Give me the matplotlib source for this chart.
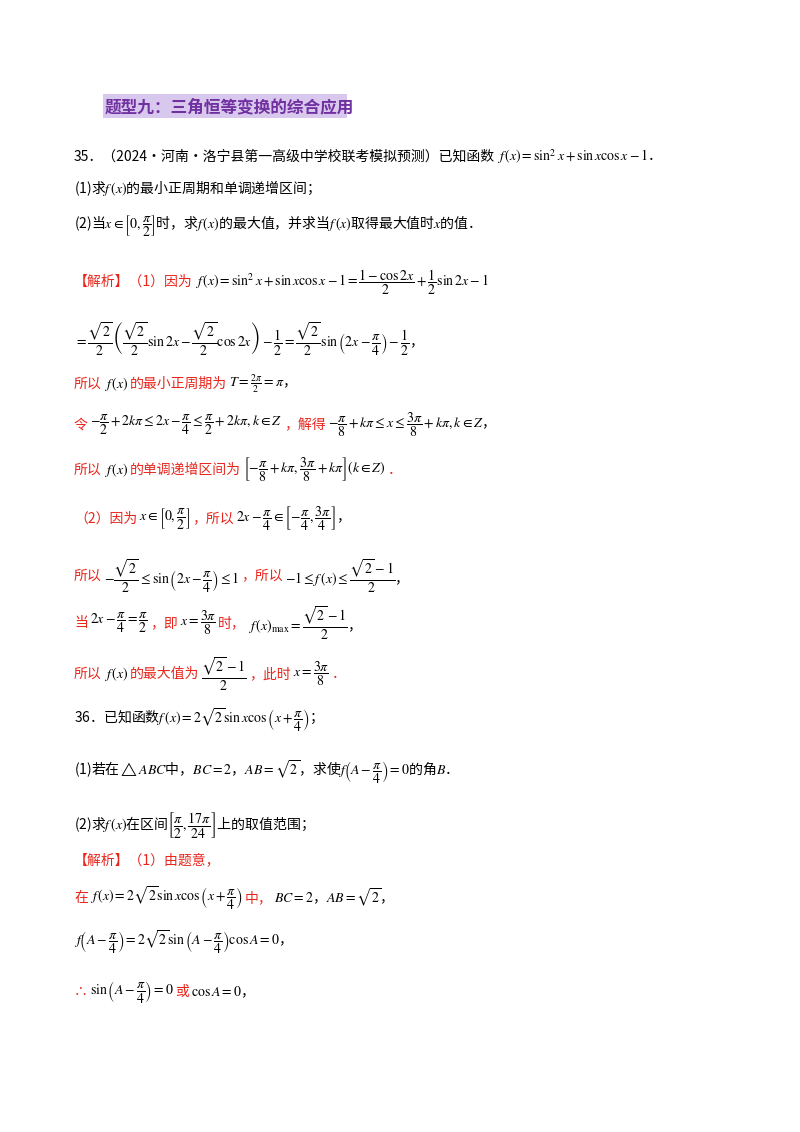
import matplotlib
matplotlib.use("Agg")
import matplotlib.pyplot as plt
from matplotlib.patches import Rectangle

plt.rcParams['font.family'] = ['Noto Sans CJK SC', 'DejaVu Sans']
plt.rcParams['mathtext.fontset'] = 'stix'

W, H = 800, 1132
fig = plt.figure(figsize=(W/100, H/100), dpi=100)
fig.patch.set_facecolor('white')

R, K = '#e8261c', 'black'
FS = 10

title = "题型九：三角恒等变换的综合应用"

# (y, [(text, color)]) segments placed one after another from x=74
lines = [
 (157, [("35．（2024·河南·洛宁县第一高级中学校联考模拟预测）已知函数", K),
        (r"$f\,(x)=\sin^2 x+\sin x\cos x-1$．", K)]),
 (188, [(r"(1)求$f\,(x)$的最小正周期和单调递增区间；", K)]),
 (226, [(r"(2)当$x\in\left[0,\dfrac{\pi}{2}\right]$时，求$f\,(x)$的最大值，并求当$f\,(x)$取得最大值时$x$的值．", K)]),
 (282, [("【解析】（1）因为", R),
        (r"$f\,(x)=\sin^2 x+\sin x\cos x-1=\dfrac{1-\cos 2x}{2}+\dfrac{1}{2}\sin 2x-1$", K)]),
 (339, [(r"$=\dfrac{\sqrt{2}}{2}\left(\dfrac{\sqrt{2}}{2}\sin 2x-\dfrac{\sqrt{2}}{2}\cos 2x\right)-\dfrac{1}{2}=\dfrac{\sqrt{2}}{2}\sin\left(2x-\dfrac{\pi}{4}\right)-\dfrac{1}{2}$，", K)]),
 (384, [("所以", R), (r"$f\,(x)$", K), ("的最小正周期为", R),
        (r"$T=\frac{2\pi}{2}=\pi$，", K)]),
 (425, [("令", R), (r"$-\dfrac{\pi}{2}+2k\pi\leq 2x-\dfrac{\pi}{4}\leq\dfrac{\pi}{2}+2k\pi,k\in Z$", K),
        ("，解得", R), (r"$-\dfrac{\pi}{8}+k\pi\leq x\leq\dfrac{3\pi}{8}+k\pi,k\in Z$，", K)]),
 (470, [("所以", R), (r"$f\,(x)$", K), ("的单调递增区间为", R),
        (r"$\left[-\dfrac{\pi}{8}+k\pi,\dfrac{3\pi}{8}+k\pi\right](k\in Z)$", K), ("．", R)]),
 (519, [("（2）因为", R), (r"$x\in\left[0,\dfrac{\pi}{2}\right]$", K), ("，所以", R),
        (r"$2x-\dfrac{\pi}{4}\in\left[-\dfrac{\pi}{4},\dfrac{3\pi}{4}\right]$，", K)]),
 (576, [("所以", R), (r"$-\dfrac{\sqrt{2}}{2}\leq\sin\left(2x-\dfrac{\pi}{4}\right)\leq 1$", K),
        ("，所以", R), (r"$-1\leq f\,(x)\leq\dfrac{\sqrt{2}-1}{2}$，", K)]),
 (623, [("当", R), (r"$2x-\dfrac{\pi}{4}=\dfrac{\pi}{2}$", K), ("，即", R),
        (r"$x=\dfrac{3\pi}{8}$", K), ("时，", R), (r"$f\,(x)_{\max}=\dfrac{\sqrt{2}-1}{2}$，", K)]),
 (674, [("所以", R), (r"$f\,(x)$", K), ("的最大值为", R),
        (r"$\dfrac{\sqrt{2}-1}{2}$", K), ("，此时", R), (r"$x=\dfrac{3\pi}{8}$", K), ("．", R)]),
 (720, [(r"36．已知函数$f\,(x)=2\sqrt{2}\sin x\cos\left(x+\dfrac{\pi}{4}\right)$；", K)]),
 (772, [(r"(1)若在$\triangle ABC$中，$BC=2$，$AB=\sqrt{2}$，求使$f\left(A-\dfrac{\pi}{4}\right)=0$的角$B$．", K)]),
 (825, [(r"(2)求$f\,(x)$在区间$\left[\dfrac{\pi}{2},\dfrac{17\pi}{24}\right]$上的取值范围；", K)]),
 (860, [("【解析】（1）由题意，", R)]),
 (898, [("在", R), (r"$f\,(x)=2\sqrt{2}\sin x\cos\left(x+\dfrac{\pi}{4}\right)$", K),
        ("中，", R), (r"$BC=2$，$AB=\sqrt{2}$，", K)]),
 (942, [(r"$f\left(A-\dfrac{\pi}{4}\right)=2\sqrt{2}\sin\left(A-\dfrac{\pi}{4}\right)\cos A=0$，", K)]),
 (992, [("∴", R), (r"$\sin\left(A-\dfrac{\pi}{4}\right)=0$", K), ("或", R), (r"$\cos A=0$，", K)]),
]

def px(x, y):
    return x / W, 1 - y / H

fig.patches.append(Rectangle(px(103, 118), 244/W, 24/H, transform=fig.transFigure,
                             facecolor='#d9c8ee', edgecolor='none'))
fig.text(*px(105, 107), title, fontsize=12, fontweight='bold', color='#7030a0', va='center')

renderer = fig.canvas.get_renderer()
for y, segs in lines:
    x = 74
    for t, c in segs:
        txt = fig.text(*px(x, y), t, fontsize=FS, color=c, va='center', ha='left')
        bb = txt.get_window_extent(renderer=renderer)
        x += bb.width + 2

fig.savefig("out.png", dpi=100, facecolor='white')
